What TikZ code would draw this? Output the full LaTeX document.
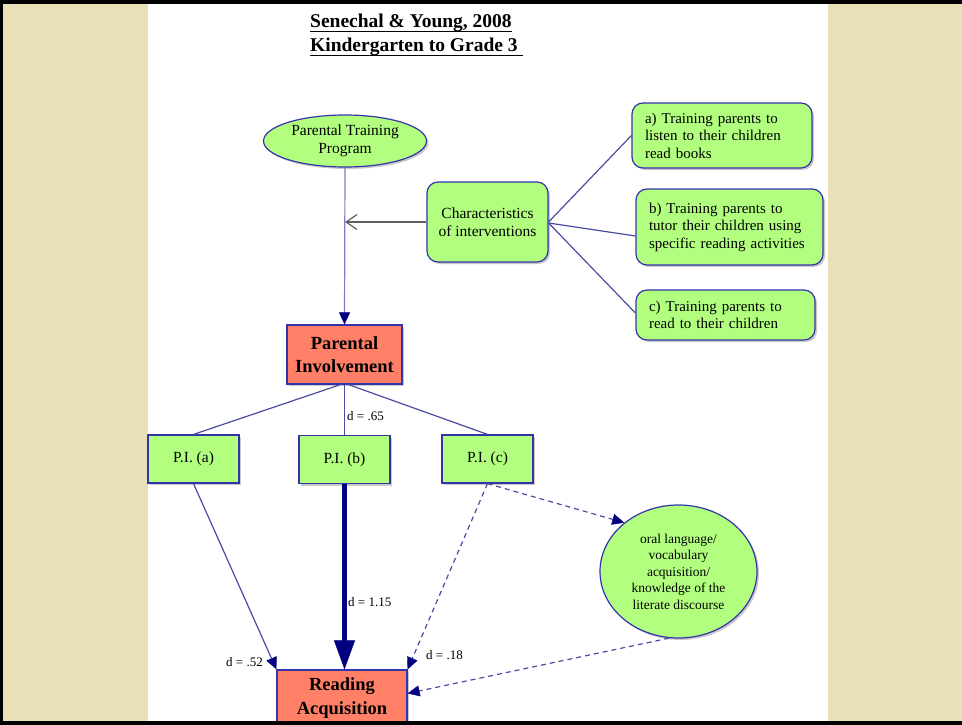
\documentclass[tikz,border=0pt]{standalone}
\usepackage{fontspec}
\setmainfont{Liberation Serif}
\usetikzlibrary{shapes.geometric,arrows.meta,shadows,calc}
\definecolor{leaf}{RGB}{178,255,128}
\definecolor{salmon}{RGB}{255,128,102}
\definecolor{edgeblue}{RGB}{51,51,170}
\definecolor{link}{RGB}{75,75,165}
\definecolor{paler}{RGB}{125,125,205}
\definecolor{parch}{RGB}{233,224,184}
\definecolor{tipnavy}{RGB}{0,0,128}
\definecolor{greyline}{RGB}{95,95,95}

\begin{document}
\begin{tikzpicture}[x=1pt,y=-1pt,
  shade/.style={drop shadow={shadow xshift=2pt,shadow yshift=-2pt,opacity=.35,fill=black!60}},
  greenbox/.style={draw=edgeblue,line width=1.2pt,fill=leaf,rounded corners=11pt,shade,
    font=\fontsize{15}{17.5}\selectfont,align=left,inner xsep=13pt,inner ysep=0pt},
  pibox/.style={draw=edgeblue,line width=1.2pt,fill=leaf,shade,minimum width=91pt,
    minimum height=48pt,inner sep=0pt,font=\fontsize{15.5}{17.5}\selectfont},
  redbox/.style={draw=edgeblue,line width=1.2pt,fill=salmon,shade,inner sep=0pt,
    font=\fontsize{18.5}{23.5}\selectfont\bfseries,align=center},
  oval/.style={ellipse,draw=edgeblue,line width=1.2pt,fill=leaf,shade,inner sep=0pt,align=center},
  dlabel/.style={font=\fontsize{13}{15}\selectfont,inner sep=0pt},
  link/.style={draw=link,line width=1.2pt},
  dashlink/.style={draw=link,line width=1.2pt,dash pattern=on 5pt off 4pt},
  navytip/.style={-{Triangle[length=12pt,width=11pt,line width=0.4pt,color=tipnavy,fill=tipnavy]}},
  titlefont/.style={font=\fontsize{19.5}{24}\selectfont\bfseries,inner sep=0pt,anchor=base west}
]
\useasboundingbox (0,0) rectangle (962,725);

% parchment frame and white page
\fill[parch] (0,0) rectangle (962,725);
\fill[white] (148,4) rectangle (828,721);

% title
\node[titlefont] (t1) at (310,28) {Senechal \& Young, 2008};
\node[titlefont] (t2) at (310,52) {Kindergarten to Grade 3};
\draw[line width=1.4pt] ([yshift=-3.5pt]t1.base west) -- ([yshift=-3.5pt]t1.base east);
\draw[line width=1.4pt] ([yshift=-3.5pt]t2.base west) -- ([xshift=5pt,yshift=-3.5pt]t2.base east);

% nodes
\node[oval,minimum width=163pt,minimum height=52pt,font=\fontsize{15.5}{18}\selectfont]
  (ptp) at (345,141) {Parental Training\\Program};
\node[greenbox,align=center,inner xsep=0pt,minimum width=121pt,minimum height=80pt,
  font=\fontsize{15.5}{18}\selectfont]
  (char) at (487.5,222) {Characteristics\\of interventions};
\node[greenbox,text width=154pt,minimum height=65pt] (ia) at (722,135.5)
  {a) Training parents to\\listen to their children\\read books};
\node[greenbox,text width=161pt,minimum height=76pt] (ib) at (729.5,227)
  {b) Training parents to\\tutor their children using\\specific reading activities};
\node[greenbox,text width=153pt,minimum height=50pt] (ic) at (725.5,315)
  {c) Training parents to\\read to their children};

\node[redbox,minimum width=115pt,minimum height=59pt] (pi) at (344.5,354.5)
  {Parental\\Involvement};
\node[pibox] (pia) at (193.5,459) {P.I. (a)};
\node[pibox] (pib) at (344.5,459.5) {P.I. (b)};
\node[pibox] (pic) at (487.5,459) {P.I. (c)};

\node[oval,minimum width=157pt,minimum height=133pt,font=\fontsize{13.5}{16.5}\selectfont]
  (oral) at (678.5,571.5) {oral language/\\vocabulary\\acquisition/\\knowledge of the\\literate discourse};

\node[redbox,minimum width=130pt,minimum height=56pt] (ra) at (342,698)
  {Reading\\Acquisition};

% training programme feeds parental involvement
\draw[draw=paler,line width=1.2pt,navytip] (ptp.south) -- (pi.north);
\coordinate (meet) at (ptp.south |- char.west);
\draw[greyline,line width=1.2pt,-{Straight Barb[length=11pt,width=15pt,line width=1.2pt]}]
  (char.west) -- (meet);

% the three intervention types
\draw[link] (char.east) -- (ia.west);
\draw[link] ([yshift=-1pt]char.east) -- ([yshift=-9pt]ib.west);
\draw[link] ([yshift=-1pt]char.east) -- ([yshift=2pt]ic.west);

% parental involvement split
\draw[link] ([xshift=-4pt]pi.south) -- (pia.north);
\draw[link] (pi.south) -- (pib.north);
\draw[link] ([xshift=4pt]pi.south) -- (pic.north);
\node[dlabel,anchor=west] (l65) at (347,416) {d = .65};

% effects on reading acquisition
\coordinate (rtop) at (pib.south |- ra.north);
\draw[link,navytip] (pia.south) -- (ra.north west);
\draw[tipnavy,line width=5pt,-{Triangle[length=29pt,width=21pt,line width=0.4pt]}]
  (pib.south) -- (rtop);
\draw[dashlink,navytip] (pic.south) -- (ra.north east);
\draw[dashlink,navytip] (pic.south) -- (oral.138);
\draw[dashlink,navytip] (oral.262) -- (ra.4);

\node[dlabel,anchor=east] (l52) at (263,662) {d = .52};
\node[dlabel,anchor=west] (l115) at (348,602) {d = 1.15};
\node[dlabel,anchor=west] (l18) at (426,655) {d = .18};

% black frame edges
\fill[black] (0,0) rectangle (962,4);
\fill[black] (0,0) rectangle (3,725);
\fill[black] (0,721) rectangle (962,725);
\end{tikzpicture}
\end{document}
